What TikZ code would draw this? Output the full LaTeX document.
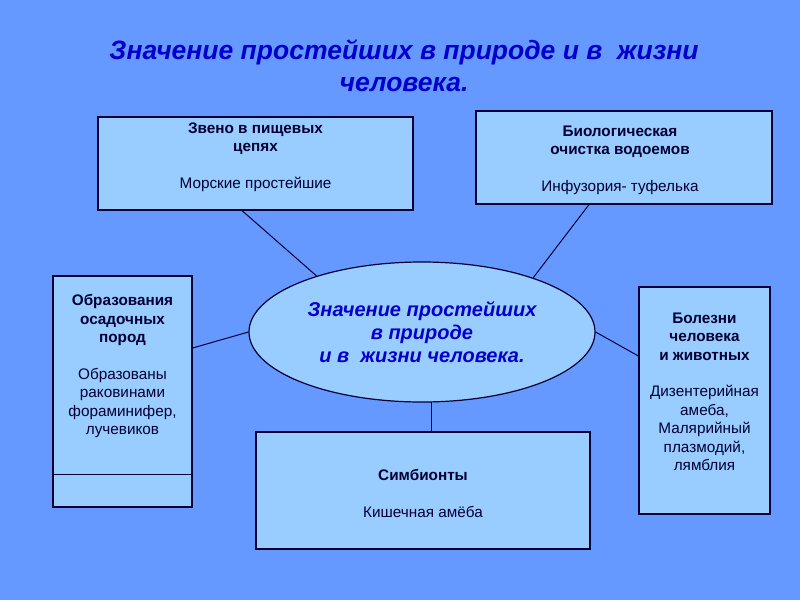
\documentclass[tikz,border=0pt]{standalone}
\usepackage{fontspec}
\setmainfont{Liberation Sans}
\usetikzlibrary{positioning,
	shapes.geometric}
\definecolor{slidebg}{HTML}{6699FF}
\definecolor{boxfill}{HTML}{99CCFF}
\definecolor{boxline}{HTML}{000033}
\definecolor{titleblue}{HTML}{0000CC}
\tikzstyle{box}=[draw=boxline, fill=boxfill, line width=1.2pt, inner sep=0]
\tikzstyle{boxtxt}=[align=center, inner sep=0, text=boxline,
		font=\fontsize{15.3}{18.5}\selectfont]
\tikzstyle{lnk}=[draw=boxline, line width=1pt]
\tikzstyle{hdr}=[align=center, inner sep=0, text=titleblue,
		font=\bfseries\itshape\fontsize{26.5}{32}\selectfont]
\tikzstyle{oval}=[ellipse, draw=boxline, fill=boxfill, line width=1.2pt, inner sep=0,
		minimum width=346pt, minimum height=140pt, align=center, text=titleblue,
		font=\bfseries\itshape\fontsize{20}{23}\selectfont]

\begin{document}
\begin{tikzpicture}[x=1pt, y=-1pt]
                \useasboundingbox (0,0) rectangle (800,600);
                \fill[slidebg] (0,0) rectangle (800,600);
                \node[hdr] (title) at (404,66) {Значение простейших в природе и в~ жизни\\человека.};
                \node[oval] (centre) at (422,332) {Значение простейших\\в природе\\и в~ жизни человека.};
                \node[box, minimum width=315pt, minimum height=93pt] (food) at (255.5,163.5) {};
                \node[box, minimum width=296pt, minimum height=93pt] (clean) at (624,157.5) {};
                \node[box, minimum width=139pt, minimum height=231pt] (rock) at (122.5,391.5) {};
                \node[box, minimum width=131pt, minimum height=227pt] (ill) at (704.5,400.5) {};
                \node[box, minimum width=334pt, minimum height=117pt] (symb) at (423,490.5) {};
                \node[boxtxt, below=6pt of food.north] (foodtxt) {\textbf{Звено в пищевых}\\\textbf{цепях}\\[18pt]Морские простейшие};
                \node[boxtxt, below=15pt of clean.north, xshift=-4pt] (cleantxt) {\textbf{Биологическая}\\\textbf{очистка водоемов}\\[18pt]Инфузория- туфелька};
                \node[boxtxt, below=19pt of rock.north] (rocktxt) {\textbf{Образования}\\\textbf{осадочных}\\\textbf{пород}\\[18pt]Образованы\\раковинами\\фораминифер,\\лучевиков};
                \node[boxtxt, below=26pt of ill.north] (illtxt) {\textbf{Болезни}\\\textbf{человека}\\\textbf{и животных}\\[18pt]Дизентерийная\\амеба,\\Малярийный\\плазмодий,\\лямблия};
                \node[boxtxt, below=38pt of symb.north] (symbtxt) {\textbf{Симбионты}\\[18pt]Кишечная амёба};
                \draw[lnk] ([yshift=33pt]rock.south west) -- ([yshift=33pt]rock.south east);
                \draw[lnk] ([xshift=-13.5pt]food.south) -- (centre.152.8);
                \draw[lnk] ([xshift=-35pt]clean.south) -- (centre.26);
                \draw[lnk] ([yshift=43.5pt]rock.east) -- (centre.180);
                \draw[lnk] ([yshift=44.5pt]ill.west) -- (centre.0);
                \draw[lnk] (centre.-82) -- (centre.-82 |- symb.north);
            \end{tikzpicture}
\end{document}
